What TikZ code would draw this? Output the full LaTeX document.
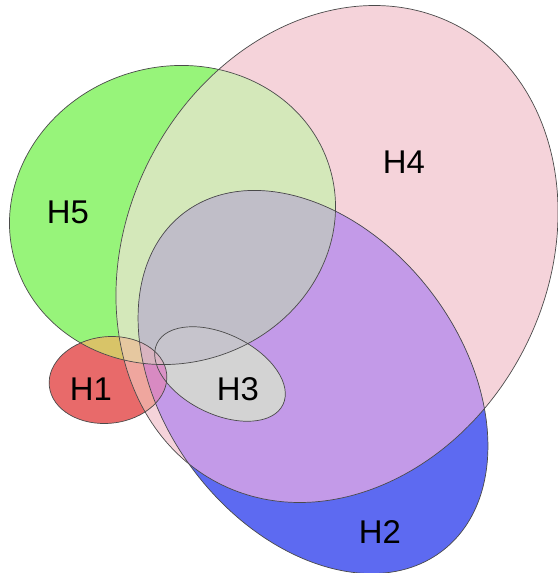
\documentclass[tikz,border=0pt]{standalone}
\usepackage{fontspec}
\setmainfont{Liberation Sans}
\definecolor{cA}{HTML}{E86A6A}
\definecolor{cB}{HTML}{5D6AF1}
\definecolor{cD}{HTML}{F5D3DA}
\definecolor{cE}{HTML}{97F47A}
\definecolor{cDE}{HTML}{D4E8BA}
\definecolor{cBD}{HTML}{C39AE8}
\definecolor{cBDE}{HTML}{C0BEC8}
\definecolor{cAE}{HTML}{D8C468}
\definecolor{cAD}{HTML}{EFA69E}
\definecolor{cADE}{HTML}{E6C8A0}
\definecolor{cABD}{HTML}{D88AC2}
\definecolor{cABDE}{HTML}{D9B4C0}
\definecolor{cBCD}{HTML}{D3D3D3}
\definecolor{cBCDE}{HTML}{C6C4CC}
\definecolor{cABCD}{HTML}{DA92C6}
\definecolor{cABCDE}{HTML}{DAB6C4}
\definecolor{edge}{HTML}{4A4A4A}
\tikzset{
  sA/.style={shift={(108,-380)},rotate=6},
  sB/.style={shift={(313,-382)},rotate=-52.6},
  sC/.style={shift={(220,-374)},rotate=-26},
  sD/.style={shift={(337,-254)},rotate=62.4},
  sE/.style={shift={(172.5,-215)},rotate=16.3},
  outline/.style={draw=edge, line width=0.7bp},
  lbl/.style={font=\fontsize{33}{33}\selectfont, inner sep=0pt}
}
\newcommand\pA{[sA] (0,0) ellipse [x radius=59, y radius=43.3]}
\newcommand\pB{[sB] (0,0) ellipse [x radius=212.7, y radius=148.5]}
\newcommand\pC{[sC] (0,0) ellipse [x radius=70, y radius=40]}
\newcommand\pD{[sD] (0,0) ellipse [x radius=258, y radius=209.8]}
\newcommand\pE{[sE] (0,0) ellipse [x radius=164.2, y radius=148.2]}
\begin{document}
\begin{tikzpicture}[x=1bp,y=1bp]
\useasboundingbox (0,0) rectangle (558,-573);
\fill[white] (0,0) rectangle (558,-573);
% single sets
\fill[cE] \pE;
\fill[cD] \pD;
\fill[cB] \pB;
\fill[cA] \pA;
% pairs
\begin{scope}\clip \pD; \fill[cDE] \pE; \end{scope}
\begin{scope}\clip \pB; \fill[cBD] \pD; \end{scope}
\begin{scope}\clip \pB; \fill[cBDE] \pE; \end{scope}
\begin{scope}\clip \pA; \fill[cAE] \pE; \end{scope}
\begin{scope}\clip \pA; \fill[cAD] \pD; \end{scope}
% triples
\begin{scope}\clip \pB; \clip \pD; \fill[cBDE] \pE; \end{scope}
\begin{scope}\clip \pA; \clip \pD; \fill[cADE] \pE; \end{scope}
\begin{scope}\clip \pA; \clip \pB; \fill[cABD] \pD; \end{scope}
\begin{scope}\clip \pB; \clip \pD; \fill[cBCD] \pC; \end{scope}
% quadruples
\begin{scope}\clip \pA; \clip \pB; \clip \pD; \fill[cABDE] \pE; \end{scope}
\begin{scope}\clip \pB; \clip \pD; \clip \pE; \fill[cBCDE] \pC; \end{scope}
\begin{scope}\clip \pA; \clip \pB; \clip \pD; \fill[cABCD] \pC; \end{scope}
% all five
\begin{scope}\clip \pA; \clip \pB; \clip \pD; \clip \pE; \fill[cABCDE] \pC; \end{scope}
% outlines
\path[outline] \pE;
\path[outline] \pD;
\path[outline] \pB;
\path[outline] \pA;
\path[outline] \pC;
% labels
\node[lbl] (lE) at (68,-212) {H5};
\node[lbl] (lD) at (404,-162) {H4};
\node[lbl] (lA) at (91,-389) {H1};
\node[lbl] (lC) at (238,-389) {H3};
\node[lbl] (lB) at (380,-532) {H2};
\end{tikzpicture}
\end{document}
